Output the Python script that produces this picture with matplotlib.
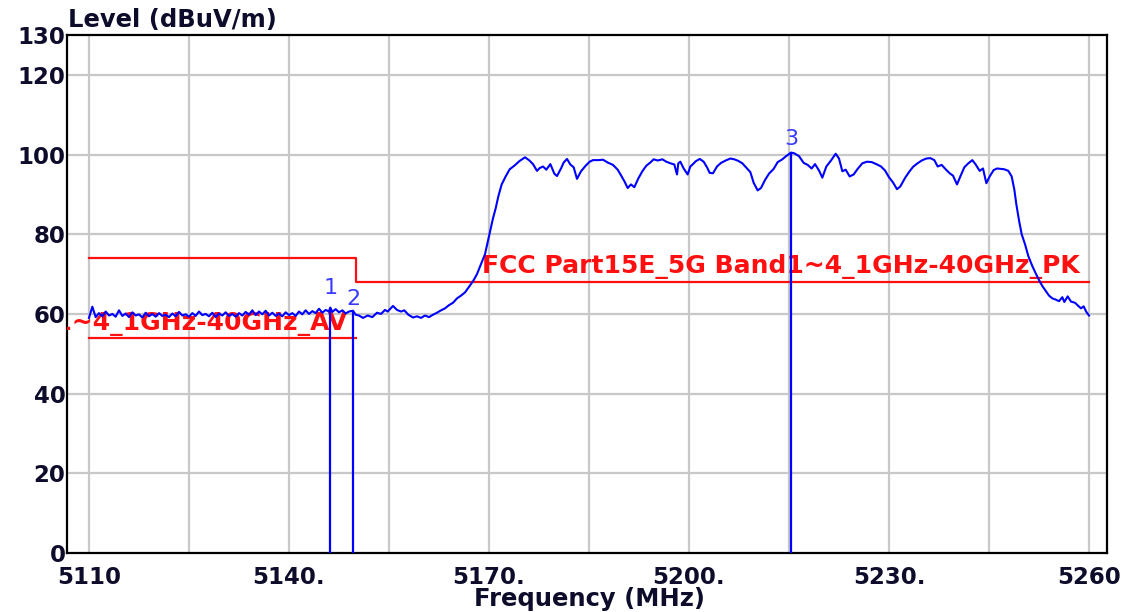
import matplotlib
matplotlib.use("Agg")
import matplotlib.pyplot as plt

# ---------------- data ----------------
freq_mhz = [
    5110.0, 5110.5, 5111.0, 5111.5, 5112.0, 5112.5, 5113.0, 5113.5, 5114.0, 5114.5,
    5115.0, 5115.5, 5116.0, 5116.5, 5117.0, 5117.5, 5118.0, 5118.5, 5119.0, 5119.5,
    5120.0, 5120.5, 5121.0, 5121.5, 5122.0, 5122.5, 5123.0, 5123.5, 5124.0, 5124.5,
    5125.0, 5125.5, 5126.0, 5126.5, 5127.0, 5127.5, 5128.0, 5128.5, 5129.0, 5129.5,
    5130.0, 5130.5, 5131.0, 5131.5, 5132.0, 5132.5, 5133.0, 5133.5, 5134.0, 5134.5,
    5135.0, 5135.5, 5136.0, 5136.5, 5137.0, 5137.5, 5138.0, 5138.5, 5139.0, 5139.5,
    5140.0, 5140.5, 5141.0, 5141.5, 5142.0, 5142.5, 5143.0, 5143.5, 5144.0, 5144.5,
    5145.0, 5145.5, 5146.0, 5146.2, 5146.5, 5147.0, 5147.5, 5148.0, 5148.5, 5149.0,
    5149.6, 5150.0, 5150.5, 5151.1, 5151.8, 5152.5, 5153.2, 5153.8, 5154.4, 5154.8,
    5155.6, 5156.2, 5156.8, 5157.3, 5157.9, 5158.6, 5159.2, 5159.8, 5160.4, 5161.0,
    5161.6, 5162.2, 5162.8, 5163.4, 5164.0, 5164.6, 5165.2, 5165.8, 5166.4, 5167.0,
    5167.6, 5168.2, 5168.8, 5169.4, 5169.8, 5170.2, 5170.6, 5171.0, 5171.4, 5171.9,
    5172.5, 5173.1, 5173.8, 5174.6, 5175.4, 5176.0, 5176.6, 5177.2, 5177.6, 5178.1,
    5178.6, 5179.2, 5179.8, 5180.2, 5180.8, 5181.2, 5181.7, 5182.2, 5182.7, 5183.2,
    5183.8, 5184.5, 5185.1, 5185.6, 5186.4, 5187.1, 5187.8, 5188.6, 5189.3, 5189.9,
    5190.4, 5190.8, 5191.3, 5191.8, 5192.4, 5193.0, 5193.6, 5194.2, 5194.7, 5195.3,
    5196.0, 5196.6, 5197.2, 5197.8, 5198.2, 5198.4, 5198.7, 5199.2, 5199.8, 5200.2,
    5200.6, 5201.0, 5201.6, 5202.2, 5202.7, 5203.1, 5203.6, 5204.2, 5204.8, 5205.5,
    5206.2, 5206.8, 5207.4, 5208.0, 5208.6, 5209.2, 5209.7, 5210.3, 5210.8, 5211.4,
    5212.0, 5212.7, 5213.3, 5214.0, 5214.5, 5215.3, 5215.8, 5216.5, 5217.2, 5217.8,
    5218.4, 5218.9, 5219.5, 5220.0, 5220.6, 5221.3, 5222.0, 5222.5, 5223.0, 5223.5,
    5224.1, 5224.7, 5225.3, 5226.0, 5226.7, 5227.4, 5228.1, 5228.8, 5229.4, 5230.0,
    5230.6, 5231.2, 5231.7, 5232.4, 5233.0, 5233.6, 5234.2, 5234.9, 5235.6, 5236.2,
    5236.8, 5237.3, 5237.9, 5238.5, 5239.1, 5239.6, 5240.2, 5240.7, 5241.3, 5241.9,
    5242.5, 5243.0, 5243.6, 5244.1, 5244.6, 5245.1, 5245.7, 5246.2, 5246.8, 5247.3,
    5247.9, 5248.4, 5248.8, 5249.1, 5249.5, 5249.9, 5250.4, 5250.9, 5251.5, 5252.0,
    5252.5, 5253.0, 5253.5, 5254.0, 5254.5, 5255.0, 5255.5, 5256.0, 5256.3, 5256.8,
    5257.3, 5257.9, 5258.4, 5258.8, 5259.2, 5259.6, 5260.0,
]
level_dbuv = [
    59.0, 61.8, 59.2, 60.2, 59.4, 60.6, 59.6, 60.0, 59.3, 60.9,
    59.5, 60.1, 59.2, 60.4, 59.6, 59.9, 59.1, 60.3, 59.4, 60.0,
    59.3, 60.2, 59.5, 59.8, 59.2, 60.1, 59.4, 60.5, 59.6, 59.9,
    59.3, 60.2, 59.5, 60.6, 59.7, 60.0, 59.4, 60.3, 59.2, 60.1,
    59.6, 60.4, 59.5, 60.0, 59.3, 60.2, 59.6, 60.5, 59.8, 60.9,
    59.7, 60.6, 59.9, 60.8, 59.6, 60.3, 59.5, 60.1, 59.4, 60.4,
    59.7, 60.2, 59.5, 60.6, 59.9, 60.9, 60.0, 60.7, 60.2, 61.3,
    60.3, 61.0, 60.6, 61.6, 60.5, 61.2, 60.4, 60.9, 60.1, 60.6,
    60.8, 59.8, 59.6, 59.0, 59.6, 59.2, 60.3, 60.0, 61.0, 60.6,
    62.0, 61.0, 60.6, 60.9, 59.8, 59.1, 59.4, 59.0, 59.6, 59.2,
    59.8, 60.3, 60.9, 61.4, 62.2, 62.8, 63.9, 64.6, 65.4, 66.8,
    68.2, 70.0, 72.5, 75.0, 78.0, 81.0, 84.0, 86.5, 89.5, 92.5,
    94.5, 96.3, 97.2, 98.4, 99.3, 98.6, 97.6, 95.9, 96.6, 97.0,
    96.2, 97.6, 95.2, 94.6, 96.5, 98.0, 98.9, 97.5, 96.8, 93.9,
    95.8, 97.2, 98.2, 98.6, 98.6, 98.7, 98.0, 97.4, 96.2, 94.5,
    93.0, 91.6, 92.5, 91.8, 94.0, 95.8, 97.2, 98.0, 98.8, 98.5,
    98.8, 98.2, 97.8, 97.5, 95.0, 97.8, 98.2, 96.5, 95.0, 97.0,
    97.6, 98.3, 98.9, 98.2, 96.8, 95.4, 95.3, 97.0, 97.9, 98.5,
    99.0, 98.8, 98.4, 97.8, 96.7, 95.6, 92.9, 91.0, 91.6, 93.6,
    95.2, 96.4, 98.1, 98.8, 99.5, 100.5, 100.3, 99.6, 97.9, 97.4,
    96.5, 97.6, 96.0, 94.2, 97.0, 98.5, 100.2, 99.0, 95.8, 96.2,
    94.5, 95.0, 96.4, 97.8, 98.2, 98.1, 97.6, 97.0, 96.0, 94.3,
    93.0, 91.3, 92.0, 94.1, 95.6, 96.9, 97.7, 98.5, 99.0, 99.1,
    98.6, 97.0, 97.4, 96.3, 95.3, 94.7, 92.5, 94.5, 96.8, 97.8,
    98.6, 97.5, 95.9, 96.5, 92.8, 94.5, 96.1, 96.5, 96.4, 96.3,
    95.9, 94.5, 91.2, 87.5, 83.5, 80.0, 77.5, 74.5, 72.0, 70.2,
    68.5, 67.0, 65.8, 64.6, 63.9, 63.6, 63.2, 64.2, 63.0, 64.4,
    63.1, 62.8, 62.0, 61.4, 61.9, 60.5, 59.6,
]

# limit lines (FCC Part15E)
pk_limit_freq = [5110.0, 5150.0, 5150.0, 5260.0]
pk_limit_level = [74.0, 74.0, 68.0, 68.0]
av_limit_freq = [5110.0, 5150.0]
av_limit_level = [54.0, 54.0]
pk_limit_label = "FCC Part15E_5G Band1~4_1GHz-40GHz_PK"
av_limit_label = "FCC Part15E_5G Band1~4_1GHz-40GHz_AV"

# markers
marker_ids = ["1", "2", "3"]
marker_freq = [5146.2, 5149.6, 5215.3]
marker_level = [61.6, 60.8, 100.5]

# axes ticks
x_ticks = [5110, 5140, 5170, 5200, 5230, 5260]
x_tick_labels = ["5110", "5140.", "5170.", "5200.", "5230.", "5260"]
x_grid = [5110, 5125, 5140, 5155, 5170, 5185, 5200, 5215, 5230, 5245, 5260]
y_ticks = [0, 20, 40, 60, 80, 100, 120, 130]
y_tick_labels = ["0", "20", "40", "60", "80", "100", "120", "130"]
y_grid = [20, 40, 60, 80, 100, 120]

# ---------------- style ----------------
W, H, DPI = 1133, 612, 100
fig = plt.figure(figsize=(W / DPI, H / DPI), dpi=DPI)
fig.patch.set_facecolor("white")

ax_l, ax_r, ax_t, ax_b = 67, 1107, 35, 553
ax = fig.add_axes([ax_l / W, 1 - ax_b / H, (ax_r - ax_l) / W, (ax_b - ax_t) / H])

ax.set_xlim(5106.7, 5262.7)
ax.set_ylim(0, 130)

tick_color = "#0d0d2b"
tick_font = dict(family="DejaVu Sans", weight="bold", size=16.5)

for g in x_grid:
    ax.axvline(g, color="#c8c8c8", lw=1.6, zorder=0)
for g in y_grid:
    ax.axhline(g, color="#c8c8c8", lw=1.6, zorder=0)

ax.set_xticks(x_ticks)
ax.set_xticklabels(x_tick_labels, **tick_font, color=tick_color)
ax.set_yticks(y_ticks)
ax.set_yticklabels(y_tick_labels, **tick_font, color=tick_color)
ax.tick_params(axis="both", length=0)
ax.tick_params(axis="x", pad=9)
ax.tick_params(axis="y", pad=1)

for s in ax.spines.values():
    s.set_color("black")
    s.set_linewidth(1.6)

# limit lines
red = "#ff1010"
ax.plot(pk_limit_freq, pk_limit_level, color=red, lw=1.6, zorder=2)
ax.plot(av_limit_freq, av_limit_level, color=red, lw=1.6, zorder=2)
label_font = dict(family="DejaVu Sans", weight="bold", size=18, color=red)
ax.text(5258.6, 70.3, pk_limit_label, ha="right", va="baseline",
        clip_on=True, zorder=3, **label_font)
ax.text(5148.7, 56.0, av_limit_label, ha="right", va="baseline",
        clip_on=True, zorder=3, **label_font)

# trace
blue = "#0000ff"
ax.plot(freq_mhz, level_dbuv, color=blue, lw=1.5, zorder=4)

# markers
ax.vlines(marker_freq, 0, marker_level, color=blue, lw=1.6, zorder=4)
marker_label_y = [66.5, 63.8, 104.0]
for mid, mf, my in zip(marker_ids, marker_freq, marker_label_y):
    ax.text(mf, my, mid, ha="center", va="center", color="#3a3aff",
            family="DejaVu Sans", size=16, zorder=5)

# axis titles
fig.text(68 / W, 1 - 27 / H, "Level (dBuV/m)", ha="left", va="baseline",
         family="DejaVu Sans", weight="bold", size=17.5, color=tick_color)
fig.text(590 / W, 1 - 606 / H, "Frequency (MHz)", ha="center", va="baseline",
         family="DejaVu Sans", weight="bold", size=17.5, color=tick_color)

fig.savefig("out.png", dpi=DPI, facecolor="white")
